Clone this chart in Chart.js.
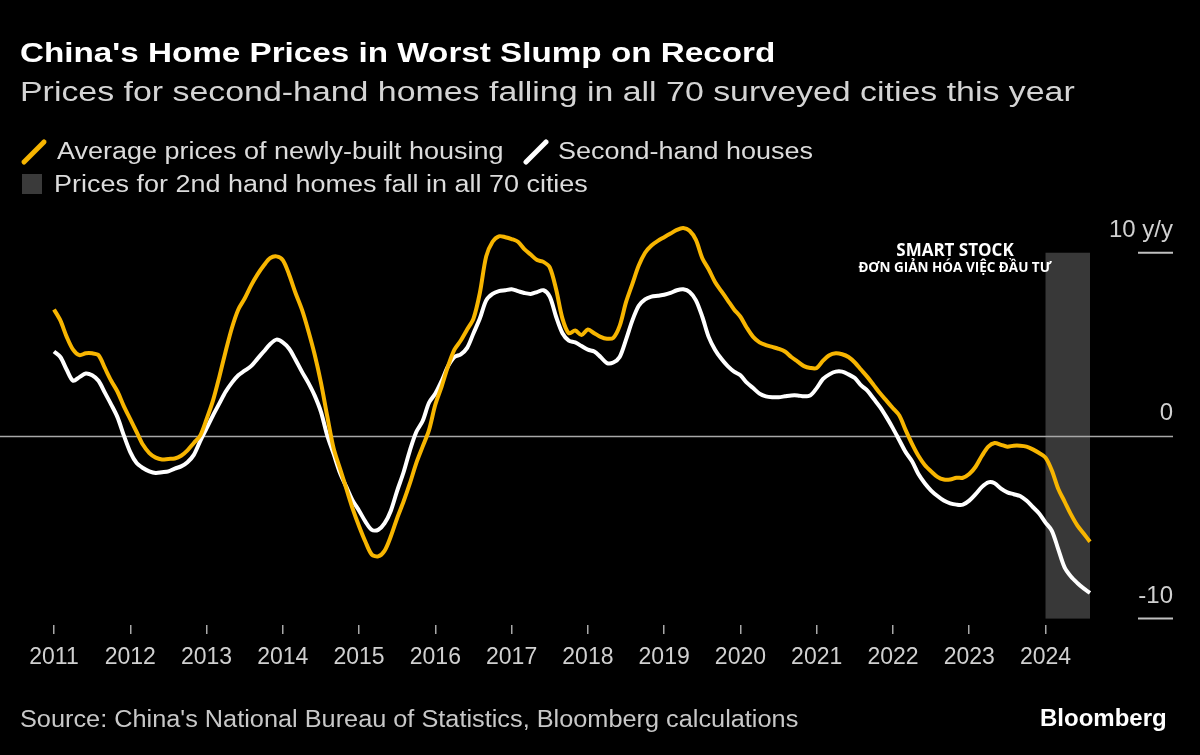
<!DOCTYPE html>
<html>
<head>
<meta charset="utf-8">
<script src="https://cdn.jsdelivr.net/npm/chart.js@4.4.1/dist/chart.umd.min.js"></script>
<style>
  html, body { margin: 0; padding: 0; background: #000; }
  body { width: 1200px; height: 755px; position: relative; overflow: hidden; font-family: "Liberation Sans", Arial, sans-serif; }
  #chart { position: absolute; left: 0; top: 0; }
  .t { position: absolute; white-space: nowrap; line-height: 1; transform-origin: 0 0; }
  .title { left: 20px; top: 39px; font-size: 28px; font-weight: bold; color: #fff; transform: scaleX(1.187); }
  .sub { left: 20px; top: 79px; font-size: 27px; color: #d4d4d4; transform: scaleX(1.255); }
  .leg { font-size: 23px; color: #dcdcdc; transform: scaleX(1.173); }
  .src { left: 20px; top: 708px; font-size: 23px; color: #c8c8c8; transform: scaleX(1.1); }
  .logo { left: 1040px; top: 706px; font-size: 24px; font-weight: bold; color: #fff; }
  .wm { position: absolute; left: 830px; width: 250px; text-align: center; font-family: "Open Sans", sans-serif; font-weight: bold; color: #fff; line-height: 1; }
  .icon { position: absolute; }
</style>
</head>
<body>
<canvas id="chart" width="1200" height="755"></canvas>

<div class="t title">China's Home Prices in Worst Slump on Record</div>
<div class="t sub">Prices for second-hand homes falling in all 70 surveyed cities this year</div>

<svg class="icon" style="left:20px;top:138px" width="28" height="28"><line x1="4" y1="24" x2="24" y2="4" stroke="#f7b500" stroke-width="5" stroke-linecap="round"/></svg>
<div class="t leg" style="left:57px;top:140px">Average prices of newly-built housing</div>
<svg class="icon" style="left:522px;top:138px" width="28" height="28"><line x1="4" y1="24" x2="24" y2="4" stroke="#ffffff" stroke-width="5" stroke-linecap="round"/></svg>
<div class="t leg" style="left:558px;top:140px">Second-hand houses</div>
<div class="icon" style="left:22px;top:174px;width:20px;height:20px;background:#3a3a3a"></div>
<div class="t leg" style="left:54px;top:173px">Prices for 2nd hand homes fall in all 70 cities</div>

<div class="wm" style="top:241px;font-size:17px">SMART STOCK</div>
<div class="wm" style="top:261px;font-size:13.5px">ĐƠN GIẢN HÓA VIỆC ĐẦU TƯ</div>

<div class="t src">Source: China's National Bureau of Statistics, Bloomberg calculations</div>
<div class="t logo">Bloomberg</div>

<script>
// y/y % change, monthly from Jan 2011 to Aug 2024
const newHomes = [
  6.9, 6.3, 5.4, 4.7, 4.4, 4.5, 4.5, 4.4, 3.7, 3.0, 2.4, 1.6,            // 2011
  0.9, 0.2, -0.5, -0.95, -1.2, -1.3, -1.27, -1.25, -1.1, -0.8, -0.4, 0.0, // 2012
  0.9, 1.9, 3.2, 4.6, 5.9, 6.9, 7.5, 8.2, 8.8, 9.3, 9.7, 9.8,             // 2013
  9.6, 8.8, 7.8, 6.9, 5.75, 4.45, 2.9, 1.05, -0.7, -1.8, -2.9, -4.0,      // 2014
  -4.95, -5.8, -6.5, -6.6, -6.3, -5.5, -4.5, -3.6, -2.6, -1.5, -0.6, 0.3, // 2015
  1.7, 2.7, 3.8, 4.7, 5.2, 5.8, 6.4, 7.8, 9.8, 10.6, 10.9, 10.85,         // 2016
  10.75, 10.6, 10.2, 9.9, 9.6, 9.5, 9.2, 8.0, 6.4, 5.6, 5.75, 5.5,        // 2017
  5.8, 5.6, 5.4, 5.3, 5.35, 6.0, 7.3, 8.3, 9.3, 10.0, 10.4, 10.65,        // 2018
  10.85, 11.05, 11.25, 11.35, 11.2, 10.7, 9.7, 9.1, 8.4, 7.9, 7.4, 6.9,   // 2019
  6.5, 5.9, 5.4, 5.1, 4.95, 4.85, 4.75, 4.6, 4.3, 4.05, 3.8, 3.7,         // 2020
  3.7, 4.1, 4.4, 4.5, 4.45, 4.3, 4.0, 3.6, 3.2, 2.75, 2.3, 1.9,           // 2021
  1.5, 1.1, 0.3, -0.45, -1.1, -1.6, -1.95, -2.25, -2.4, -2.4, -2.3, -2.3, // 2022
  -2.1, -1.7, -1.1, -0.6, -0.4, -0.5, -0.6, -0.55, -0.55, -0.6, -0.75, -0.95, // 2023
  -1.2, -1.9, -2.9, -3.6, -4.3, -4.9, -5.35, -5.8                         // 2024
];
const secondHand = [
  4.6, 4.3, 3.6, 3.0, 3.2, 3.4, 3.3, 3.0, 2.35, 1.7, 1.0, 0.0,            // 2011
  -0.9, -1.5, -1.77, -1.95, -2.04, -2.0, -1.95, -1.8, -1.68, -1.45, -1.05, -0.3, // 2012
  0.4, 1.1, 1.75, 2.4, 2.9, 3.3, 3.55, 3.8, 4.2, 4.6, 5.0, 5.25,          // 2013
  5.1, 4.75, 4.15, 3.5, 2.9, 2.2, 1.3, 0.0, -1.0, -2.04, -2.8, -3.55,     // 2014
  -4.1, -4.7, -5.15, -5.15, -4.8, -4.1, -3.0, -2.0, -0.8, 0.2, 0.8, 1.8,  // 2015
  2.3, 3.0, 3.8, 4.3, 4.45, 4.8, 5.6, 6.4, 7.4, 7.75, 7.9, 7.95,          // 2016
  8.0, 7.9, 7.8, 7.75, 7.85, 7.95, 7.6, 6.5, 5.6, 5.2, 5.1, 4.9,          // 2017
  4.7, 4.6, 4.3, 3.97, 4.0, 4.3, 5.25, 6.3, 7.1, 7.45, 7.6, 7.65,         // 2018
  7.7, 7.8, 7.95, 8.0, 7.85, 7.4, 6.5, 5.4, 4.7, 4.2, 3.8, 3.5,           // 2019
  3.3, 2.9, 2.6, 2.3, 2.15, 2.1, 2.1, 2.15, 2.2, 2.2, 2.15, 2.2,          // 2020
  2.6, 3.1, 3.35, 3.5, 3.5, 3.35, 3.15, 2.75, 2.45, 2.0, 1.55, 1.0,       // 2021
  0.4, -0.25, -0.9, -1.4, -2.1, -2.6, -3.0, -3.3, -3.55, -3.7, -3.77, -3.77, // 2022
  -3.55, -3.2, -2.8, -2.55, -2.6, -2.9, -3.1, -3.2, -3.3, -3.55, -3.9, -4.25, // 2023
  -4.75, -5.2, -6.2, -7.2, -7.7, -8.05, -8.35, -8.6                       // 2024
];

const months = [];
for (let yr = 2011; yr <= 2024; yr++) {
  for (let m = 1; m <= 12; m++) months.push(yr + '-' + String(m).padStart(2, '0'));
}
months.length = newHomes.length;

const shadeFrom = '2024-01';
const shadeTo = '2024-08';
const yTicks = [10, 0, -10];
const yLabels = ['10 y/y', '0', '-10'];

const FONT = '"Liberation Sans", Arial, sans-serif';

const decor = {
  id: 'decor',
  beforeDatasetsDraw(chart) {
    const { ctx, scales: { x, y } } = chart;
    ctx.save();
    // shaded period
    const x0 = x.getPixelForValue(months.indexOf(shadeFrom));
    const x1 = x.getPixelForValue(months.indexOf(shadeTo));
    const top = y.getPixelForValue(10), bot = y.getPixelForValue(-10);
    ctx.fillStyle = '#383838';
    ctx.fillRect(x0, top, x1 - x0, bot - top);
    // zero line
    const z = Math.round(y.getPixelForValue(0)) + 0.5;
    ctx.strokeStyle = '#a8a8a8';
    ctx.lineWidth = 1.5;
    ctx.beginPath();
    ctx.moveTo(0, z);
    ctx.lineTo(1173, z);
    ctx.stroke();
    ctx.restore();
  },
  afterDraw(chart) {
    const { ctx, scales: { y } } = chart;
    ctx.save();
    ctx.font = '24px ' + FONT;
    ctx.fillStyle = '#d0d0d0';
    ctx.textAlign = 'right';
    ctx.textBaseline = 'alphabetic';
    ctx.strokeStyle = '#c0c0c0';
    ctx.lineWidth = 2;
    yTicks.forEach((v, i) => {
      const py = y.getPixelForValue(v);
      ctx.fillText(yLabels[i], 1173, py - 16);
      if (v !== 0) {
        ctx.beginPath();
        ctx.moveTo(1138, py);
        ctx.lineTo(1173, py);
        ctx.stroke();
      }
    });
    ctx.restore();
  }
};

new Chart(document.getElementById('chart'), {
  type: 'line',
  data: {
    labels: months,
    datasets: [{
      label: 'Average prices of newly-built housing',
      data: newHomes,
      borderColor: '#f7b500',
      borderWidth: 4,
      pointRadius: 0,
      tension: 0.3
    }, {
      label: 'Second-hand houses',
      data: secondHand,
      borderColor: '#ffffff',
      borderWidth: 4,
      pointRadius: 0,
      tension: 0.3
    }]
  },
  options: {
    responsive: false,
    animation: false,
    devicePixelRatio: 1,
    layout: { padding: { left: 54, right: 110, top: 207, bottom: 80 } },
    plugins: {
      legend: { display: false },
      tooltip: { enabled: false }
    },
    scales: {
      x: {
        offset: false,
        afterFit(scale) { scale.height = 50; },
        border: { display: false },
        grid: {
          drawOnChartArea: false,
          drawTicks: true,
          tickLength: 9,
          color: '#a8a8a8',
          lineWidth: 1.5
        },
        ticks: {
          autoSkip: false,
          maxRotation: 0,
          padding: 10,
          color: '#d0d0d0',
          font: { family: FONT, size: 23 },
          callback(val) {
            const lab = months[val];
            return lab.endsWith('-01') ? lab.slice(0, 4) : null;
          }
        }
      },
      y: {
        display: false,
        min: -10.35,
        max: 12.5
      }
    }
  },
  plugins: [decor]
});
</script>
</body>
</html>
